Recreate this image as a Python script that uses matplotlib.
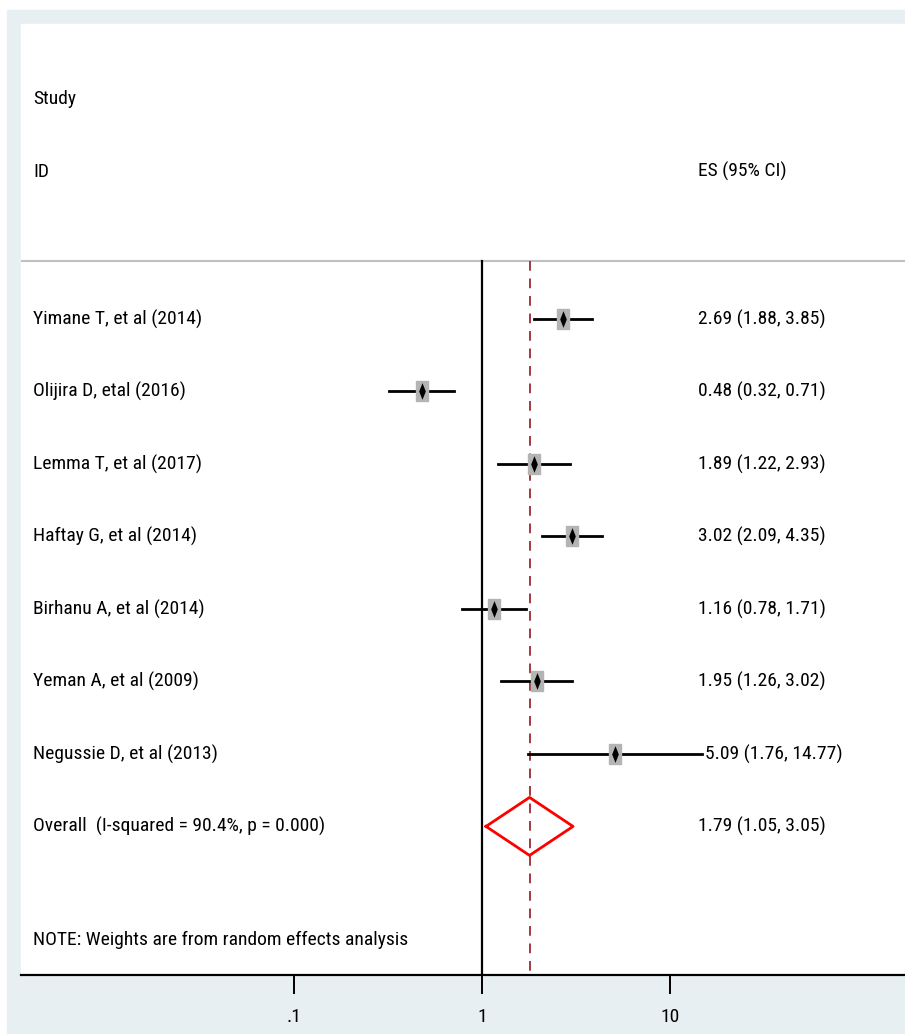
import matplotlib
matplotlib.use("Agg")
import matplotlib.pyplot as plt
import matplotlib.transforms as mtransforms
import numpy as np

plt.rcParams['font.family'] = ['Roboto Condensed', 'Liberation Sans Narrow', 'Arial Narrow',
                               'Liberation Sans', 'DejaVu Sans']
plt.rcParams['font.stretch'] = 'condensed'

# study data
studies = ["Yimane T, et al (2014)", "Olijira D, etal (2016)", "Lemma T, et al (2017)",
           "Haftay G, et al (2014)", "Birhanu A, et al (2014)", "Yeman A, et al (2009)",
           "Negussie D, et al (2013)"]
es = [2.69, 0.48, 1.89, 3.02, 1.16, 1.95, 5.09]
lo = [1.88, 0.32, 1.22, 2.09, 0.78, 1.26, 1.76]
hi = [3.85, 0.71, 2.93, 4.35, 1.71, 3.02, 14.77]

overall_label = "Overall  (I-squared = 90.4%, p = 0.000)"
overall = (1.79, 1.05, 3.05)
xticks = [0.1, 1, 10]
xticklabels = [".1", "1", "10"]

FS = 14
W, H = 905, 1034
fig = plt.figure(figsize=(W / 100, H / 100), dpi=100)
# light stata-ish background panel
fig.patches.append(plt.Rectangle((7 / W, 0), 1, 1 - 10 / H, transform=fig.transFigure,
                                 color="#e8eff2", zorder=-10))
fig.patches.append(plt.Rectangle((21 / W, 59 / H), 1, (975 - 24) / H, transform=fig.transFigure,
                                 color="white", zorder=-9))

ax = fig.add_axes([21 / W, 59 / H, (W - 21) / W, (975 - 24) / H])
ax.set_facecolor("none")
ax.set_xscale("log")
ax.set_xlim(10 ** ((21 - 482) / 188), 10 ** ((905 - 482) / 188))
ax.set_ylim(9.05, -4.07)

for s in ["top", "right", "left"]:
    ax.spines[s].set_visible(False)
ax.spines["bottom"].set_linewidth(1.6)
ax.set_yticks([])
ax.set_xticks(xticks)
ax.set_xticklabels(xticklabels, fontsize=FS)
ax.xaxis.set_minor_locator(matplotlib.ticker.NullLocator())
ax.tick_params(axis="x", length=14, width=1.4, pad=10)

trans = mtransforms.blended_transform_factory(fig.transFigure, ax.transData)

# header
ax.text(33 / W, -3.03, "Study", transform=trans, fontsize=FS, va="center")
ax.text(33 / W, -2.03, "ID", transform=trans, fontsize=FS, va="center")
ax.text(698 / W, -2.03, "ES (95% CI)", transform=trans, fontsize=FS, va="center")
ax.axhline(-0.8, color="#c0c0c0", lw=1.5)

# null line and overall line
ax.plot([1, 1], [-0.8, 9.05], color="black", lw=1.6)
ax.plot([overall[0], overall[0]], [-0.8, 9.05], color="#a0393f", lw=1.4, ls=(0, (5, 4)))

box = [(-0.3, -0.5), (0.3, -0.5), (0.3, 0.5), (-0.3, 0.5), (-0.3, -0.5)]
thin_diamond = [(0, -0.5), (0.2, 0), (0, 0.5), (-0.2, 0), (0, -0.5)]
for i, name in enumerate(studies):
    ax.plot([lo[i], hi[i]], [i, i], color="black", lw=2)
    ax.plot(es[i], i, marker=box, ms=15, color="#b4b4b4", mec="#b4b4b4")
    ax.plot(es[i], i, marker=thin_diamond, ms=12, color="black", mew=0)
    ax.text(33 / W, i, name, transform=trans, fontsize=FS, va="center")
    xs = 705 if hi[i] >= 10 else 698
    ax.text(xs / W, i, "%.2f (%.2f, %.2f)" % (es[i], lo[i], hi[i]),
            transform=trans, fontsize=FS, va="center")

# overall diamond
ny = len(studies)
m, l, h = overall
ax.plot([l, m, h, m, l], [ny, ny - 0.4, ny, ny + 0.4, ny], color="red", lw=2)
ax.text(33 / W, ny, overall_label, transform=trans, fontsize=FS, va="center")
ax.text(698 / W, ny, "%.2f (%.2f, %.2f)" % overall, transform=trans, fontsize=FS, va="center")

ax.text(33 / W, 8.57, "NOTE: Weights are from random effects analysis", transform=trans,
        fontsize=FS, va="center")

fig.savefig("out.png", dpi=100)
